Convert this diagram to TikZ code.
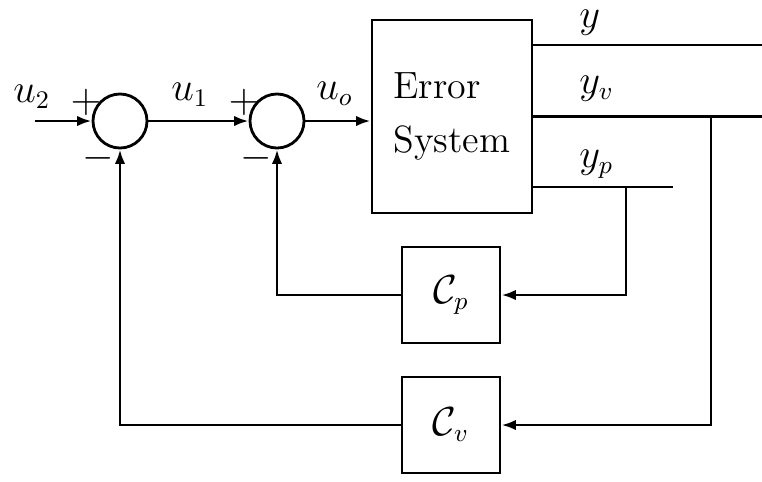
\documentclass[tikz,border=0pt]{standalone}
\usepackage{amsmath,amssymb}
\usetikzlibrary{arrows.meta,positioning,calc}

\begin{document}
\begin{tikzpicture}[x=0.0125cm,y=-0.0125cm,line width=1pt,
  blk/.style={draw,minimum width=1.225cm,minimum height=1.2cm,inner sep=0pt,font=\fontsize{13.5}{19}\selectfont},
  sumnode/.style={draw,circle,minimum size=0.675cm,inner sep=0pt},
  sig/.style={-{Latex[length=1.8mm,width=1.3mm]}},
  wire/.style={},
  lbl/.style={font=\fontsize{13.5}{16}\selectfont,inner sep=0pt}]
  \useasboundingbox (0,0) rectangle (762,481);
  % blocks
  \node[sumnode] (s1) at (120,121) {};
  \node[sumnode] (s2) at (277,121) {};
  \node[blk,minimum width=2cm,minimum height=2.4125cm,align=left] (sys) at (452,116.5) {Error\\System};
  \node[blk] (cp) at (451,295) {$\mathcal{C}_p$};
  \node[blk] (cv) at (451,425) {$\mathcal{C}_v$};
  % forward path
  \coordinate (in) at (35,121);
  \draw[sig] (in) -- (s1.west);
  \draw[sig] (s1.east) -- (s2.west);
  \draw[sig] (s2.east) -- (s2.east -| sys.west);
  % outputs
  \coordinate (yout) at (762,45);
  \coordinate (yvout) at (762,116.5);
  \coordinate (ypend) at (673,187);
  \draw[wire] (sys.east |- yout) -- (yout);
  \draw[wire] (sys.east) -- (yvout);
  \draw[wire] (sys.east |- ypend) -- (ypend);
  % feedback
  \coordinate (pb) at (626,187);
  \coordinate (vb) at (711,116.5);
  \draw[sig] (pb) |- (cp.east);
  \draw[sig] (vb) |- (cv.east);
  \draw[sig] (cp.west) -| (s2.south);
  \draw[sig] (cv.west) -| (s1.south);
  % labels
  \node[lbl,anchor=base west] (lu2) at (12,102) {$u_2$};
  \node[lbl,anchor=base west] (lu1) at (170,100) {$u_1$};
  \node[lbl,anchor=base west] (luo) at (315,99) {$u_o$};
  \node[lbl,anchor=base west] (ly) at (578,27) {$y$};
  \node[lbl,anchor=base west] (lyv) at (578,93) {$y_v$};
  \node[lbl,anchor=base west] (lyp) at (578,167) {$y_p$};
  \node[lbl] (p1) at (86,102) {$+$};
  \node[lbl] (m1) at (98,158) {$-$};
  \node[lbl] (p2) at (244,102) {$+$};
  \node[lbl] (m2) at (256,158) {$-$};
\end{tikzpicture}
\end{document}
